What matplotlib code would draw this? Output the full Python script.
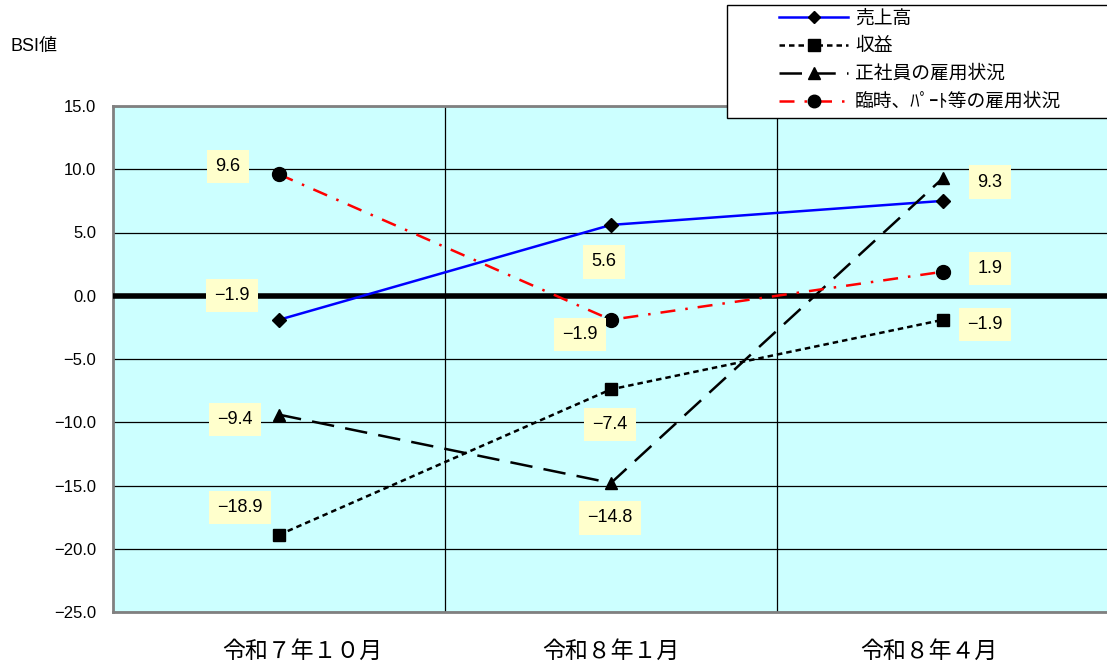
import matplotlib
matplotlib.use("Agg")
import matplotlib.pyplot as plt
from matplotlib.lines import Line2D
from matplotlib.patches import Rectangle
from matplotlib.transforms import ScaledTranslation

plt.rcParams['font.family'] = ['Liberation Sans', 'Noto Sans CJK JP', 'DejaVu Sans']

# Survey periods and BSI values per item
periods = ["令和７年１０月", "令和８年１月", "令和８年４月"]
sales = [-1.9, 5.6, 7.5]
profit = [-18.9, -7.4, -1.9]
regular_staff = [-9.4, -14.8, 9.3]
parttime_staff = [9.6, -1.9, 1.9]

series_names = ["売上高", "収益", "正社員の雇用状況", "臨時、ﾊﾟｰﾄ等の雇用状況"]
y_ticks = [15.0, 10.0, 5.0, 0.0, -5.0, -10.0, -15.0, -20.0, -25.0]

fig = plt.figure(figsize=(11.07, 6.61), dpi=100)
ax = fig.add_axes([113 / 1107, 1 - 612 / 661, 996 / 1107, 506 / 661])
ax.set_facecolor("#CCFFFF")

x = list(range(len(periods)))

styles = {
    "sales": dict(color="#0000FF", lw=1.8, ls="-", marker="D", ms=7),
    "profit": dict(color="black", lw=1.8, ls=(0, (2.2, 1.6)), marker="s", ms=9),
    "regular": dict(color="black", lw=1.8, ls=(0, (9, 4.5)), marker="^", ms=9),
    "parttime": dict(color="#FF0000", lw=1.8, ls=(0, (6, 4, 1, 4)), marker="o", ms=10),
}
for key, vals in [("sales", sales), ("profit", profit),
                  ("regular", regular_staff), ("parttime", parttime_staff)]:
    ax.plot(x, vals, mfc="black", mec="black", zorder=5, **styles[key])

# horizontal grid and thick zero line
ax.set_ylim(-25, 15)
ax.set_yticks(y_ticks)
ax.set_yticklabels([f"{v:.1f}".replace("-", "−") for v in y_ticks], fontsize=12)
ax.yaxis.grid(True, color="black", lw=0.9)
ax.axhline(0, color="black", lw=4, zorder=4)

# category axis with separators between periods
ax.set_xlim(-0.5, len(periods) - 0.5)
ax.set_xticks(x)
ax.set_xticklabels(periods, fontsize=16.5)
ax.set_xticks([i + 0.5 for i in x[:-1]], minor=True)
ax.xaxis.grid(True, which="minor", color="black", lw=0.9)
ax.tick_params(axis="both", which="both", length=0)
ax.tick_params(axis="y", pad=12)
ax.tick_params(axis="x", pad=20)
ax.set_axisbelow(True)

# nudge the category labels sideways
for lbl, dx in zip(ax.get_xticklabels(), [23, 0, -14]):
    lbl.set_transform(lbl.get_transform() + ScaledTranslation(dx / 100, 0, fig.dpi_scale_trans))

for side in ["top", "bottom", "left"]:
    ax.spines[side].set_color("#808080")
    ax.spines[side].set_linewidth(2)
ax.spines["right"].set_visible(False)

# value labels
box = dict(boxstyle="square,pad=0.45", fc="#FFFFCC", ec="none")
labels = [
    (0, parttime_staff[0], (-51, 8)),
    (0, sales[0], (-47, 24)),
    (0, regular_staff[0], (-44, -5)),
    (0, profit[0], (-39, 27)),
    (1, sales[1], (-7, -37)),
    (1, parttime_staff[1], (-31, -15)),
    (1, profit[1], (-1, -35)),
    (1, regular_staff[1], (-1, -35)),
    (2, regular_staff[2], (47, -4)),
    (2, parttime_staff[2], (47, 3)),
    (2, profit[2], (42, -5)),
]
for xi, val, off in labels:
    ax.annotate(f"{val:.1f}".replace("-", "−"), (xi, val), xytext=off,
                textcoords="offset pixels", ha="center", va="center",
                fontsize=13, bbox=box, zorder=6)

fig.text(10 / 1107, 1 - 47 / 661, "BSI値", fontsize=13, ha="left", va="center")

# legend: white framed box overlapping the top-right of the plot
fig.patches.append(Rectangle((727 / 1107, 1 - 118 / 661), 390 / 1107, 113 / 661,
                             transform=fig.transFigure, fc="white", ec="black",
                             lw=1, zorder=9))
handles = []
for key in ["sales", "profit", "regular", "parttime"]:
    st = dict(styles[key])
    st["ms"] = st["ms"] - 1
    handles.append(Line2D([], [], mfc="black", mec="black", **st))

leg = fig.legend(handles, series_names, loc="upper left",
                 bbox_to_anchor=(779 / 1107, 1 - 10 / 661),
                 fontsize=13.5, handlelength=3.7, handletextpad=0.35,
                 borderpad=0, labelspacing=0.56, borderaxespad=0,
                 frameon=False)
leg.set_zorder(10)

fig.savefig("out.png", dpi=100)
